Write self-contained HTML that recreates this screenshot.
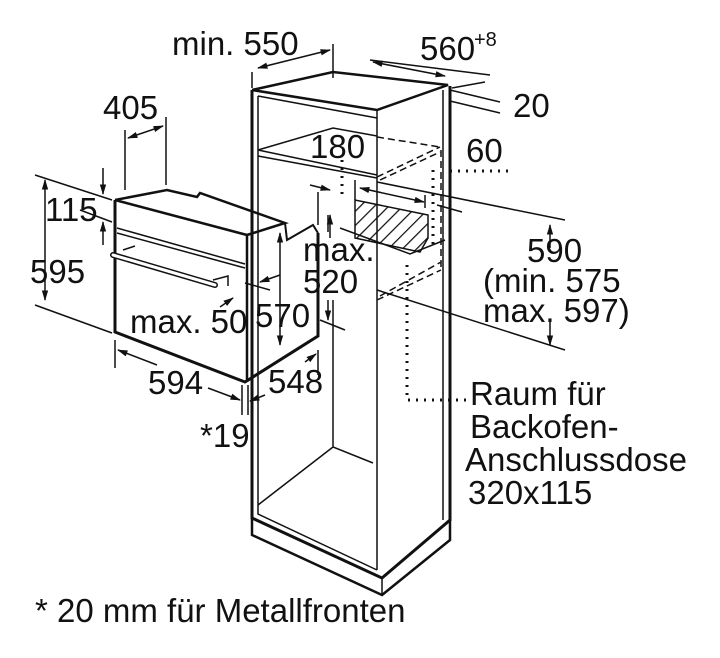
<!DOCTYPE html>
<html><head><meta charset="utf-8"><style>
body{margin:0;background:#fff}
svg{display:block}
text{font-family:"Liberation Sans",sans-serif;font-size:33px;fill:#111}
</style></head><body>
<svg width="720" height="658" viewBox="0 0 720 658" xmlns="http://www.w3.org/2000/svg">
<defs>
<pattern id="h" width="10" height="10" patternUnits="userSpaceOnUse" patternTransform="rotate(45)"><line x1="0" y1="0" x2="0" y2="10" stroke="#111" stroke-width="2.5"/></pattern>
<marker id="a" viewBox="0 0 10 10" refX="9" refY="5" markerWidth="7" markerHeight="7" orient="auto-start-reverse"><path d="M0,2 L10,5 L0,8z" fill="#111"/></marker>
</defs>
<g stroke="#111" fill="none" stroke-width="1.5">
<!-- cabinet -->
<path d="M252,90 L252,518 L382,578 L450,520 L450,86" stroke-width="3"/>
<path d="M258,96 L258,514 L377,570 M377,110 L377,570 M443,90 L443,520" />
<path d="M252,90 L333,72 L448,85 L377,110 L252,90" stroke-width="2.5"/>
<path d="M258,96 L377,118 M258,150 L377,175 M258,156 L377,178 M258,150 L333,128 L377,136"/>
<path d="M333,300 L333,447 L373,463 M258,505 L333,447"/>
<path d="M252,518 L252,535 L382,595 L450,540 L450,520" stroke-width="2.5"/>
<path d="M382,578 L382,595"/>
<!-- rear niche dashed -->
<g stroke-dasharray="7,4">
<path d="M377,137 L440,147 M377,177 L440,147 M380,180 L440,152 M441,150 L441,270 M377,300 L441,270 M380,296 L441,262"/>
</g>
<path d="M355,200 L355,238 L420,252 L428,238 L428,215 L355,200z" fill="url(#h)"/>
<path d="M340,228 L410,254 L445,240"/>
<!-- dotted -->
<g stroke-dasharray="2,6" stroke-width="3">
<path d="M342,160 L342,195 M407,265 L407,400 L470,400 M433,170 L433,245 M450,171 L510,171"/>
</g>
<!-- oven -->
<path d="M115,200 L115,332 L245,382 L318,336 L318,233" stroke-width="3"/>
<path d="M115,200 L247,235 L247,382" stroke-width="2.5"/>
<path d="M115,200 L167,190 L197,197 L200,193 L285,223 L247,235" stroke-width="2.5"/>
<path d="M285,223 L287,240 L313,225 L318,233" stroke-width="2"/>
<path d="M117,228 L245,264 M117,233 L245,268"/>
<path d="M113,255 L215,285" stroke-width="6" stroke-linecap="round"/>
<path d="M113,255 L215,285" stroke="#fff" stroke-width="3" stroke-linecap="round"/>
<path d="M123,250 L135,246 M213,280 L228,276 L228,286"/>
<!-- dimension lines -->
<path d="M252,72 L252,88 M333,44 L333,78"/>
<path d="M258,68 L330,50" marker-start="url(#a)" marker-end="url(#a)"/>
<path d="M373,62 L445,76" marker-start="url(#a)" marker-end="url(#a)"/>
<path d="M370,60 L490,75"/>
<path d="M450,90 L500,102 M450,101 L500,113 M485,82 L452,88" />
<path d="M125,130 L125,190 M166,117 L166,185"/>
<path d="M128,138 L163,126" marker-start="url(#a)" marker-end="url(#a)"/>
<path d="M35,175 L112,200 M35,305 L112,333"/>
<path d="M45,180 L45,300" marker-start="url(#a)" marker-end="url(#a)"/>
<path d="M103,168 L103,194" marker-end="url(#a)"/><path d="M103,245 L103,222" marker-end="url(#a)"/>
<path d="M112,222 L80,210"/>
<path d="M115,340 L115,368"/>
<path d="M157,365 L118,350" marker-end="url(#a)"/>
<path d="M208,388 L240,400" marker-end="url(#a)"/>
<path d="M242,385 L242,415 M248,385 L248,415"/>
<path d="M265,395 L250,401" marker-end="url(#a)"/>
<path d="M318,350 L318,375"/><path d="M305,362 L316,354" marker-end="url(#a)"/>
<path d="M280,275 L260,282" marker-end="url(#a)"/><path d="M245,283 L270,290"/>
<path d="M220,307 L233,298" marker-end="url(#a)"/>
<path d="M280,233 L280,345" marker-start="url(#a)" marker-end="url(#a)"/>
<path d="M318,192 L318,225 M328,232 L328,215" />
<path d="M310,185 L330,190" marker-end="url(#a)"/>
<path d="M330,238 L330,215" marker-end="url(#a)"/>
<path d="M328,300 L328,320" marker-end="url(#a)"/><path d="M320,320 L345,330"/>
<path d="M355,180 L355,200 M425,208 L425,195"/>
<path d="M360,188 L424,202" marker-start="url(#a)" marker-end="url(#a)"/>
<path d="M377,182 L565,220 M377,290 L565,350"/>
<path d="M550,225 L550,248" marker-start="url(#a)"/><path d="M550,322 L550,345" marker-end="url(#a)"/>
<path d="M437,205 L462,212"/>
</g>
<text x="172" y="55">min. 550</text>
<text x="420" y="60">560</text><text x="474" y="46" style="font-size:20px">+8</text>
<text x="513" y="117">20</text>
<text x="103" y="119">405</text>
<text x="310" y="158">180</text>
<text x="466" y="162">60</text>
<text x="45" y="221">115</text>
<text x="30" y="283">595</text>
<text x="303" y="261">max.</text>
<text x="303" y="293">520</text>
<text x="527" y="262">590</text>
<text x="483" y="292">(min. 575</text>
<text x="483" y="322">max. 597)</text>
<text x="130" y="333">max. 50</text>
<text x="255" y="327">570</text>
<text x="148" y="394">594</text>
<text x="268" y="393">548</text>
<text x="200" y="447">*19</text>
<text x="470" y="405">Raum für</text>
<text x="470" y="438">Backofen-</text>
<text x="465" y="471">Anschlussdose</text>
<text x="468" y="504">320x115</text>
<text x="35" y="622">* 20 mm für Metallfronten</text>
</svg>
</body></html>
